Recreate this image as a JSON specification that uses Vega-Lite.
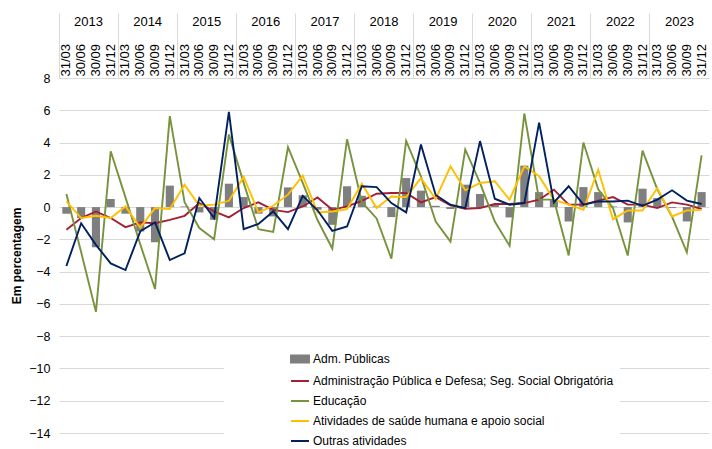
{
  "$schema": "https://vega.github.io/schema/vega-lite/v6.json",
  "width": 650,
  "height": 355,
  "autosize": {"type": "none"},
  "padding": {"left": 59, "top": 78, "right": 3, "bottom": 16},
  "background": "white",
  "config": {
    "view": {"stroke": null},
    "font": "Liberation Sans",
    "axis": {"labelFont": "Liberation Sans", "titleFont": "Liberation Sans", "labelColor": "#000000", "titleColor": "#000000"}
  },
  "layer": [
    {
      "data": {
        "values": [
          {"period": "31/03/2013", "A": -0.41, "B": -1.41, "C": 0.81, "D": 0.35, "E": -3.65},
          {"period": "30/06/2013", "A": -0.68, "B": -0.68, "C": -2.8, "D": -0.68, "E": -1.0},
          {"period": "30/09/2013", "A": -2.49, "B": -0.27, "C": -6.49, "D": -0.54, "E": -2.34},
          {"period": "31/12/2013", "A": 0.5, "B": -0.68, "C": 3.46, "D": -0.68, "E": -3.49},
          {"period": "31/03/2014", "A": -0.41, "B": -1.24, "C": 0.6, "D": 0.04, "E": -3.9},
          {"period": "30/06/2014", "A": -1.51, "B": -0.95, "C": -2.3, "D": -1.27, "E": -1.5},
          {"period": "30/09/2014", "A": -2.18, "B": -1.0, "C": -5.08, "D": -0.06, "E": -0.95},
          {"period": "31/12/2014", "A": 1.33, "B": -0.79, "C": 5.64, "D": -0.12, "E": -3.28},
          {"period": "31/03/2015", "A": 0.04, "B": -0.54, "C": 0.3, "D": 1.39, "E": -2.86},
          {"period": "30/06/2015", "A": -0.33, "B": 0.25, "C": -1.3, "D": 0.08, "E": 0.56},
          {"period": "30/09/2015", "A": -0.79, "B": -0.27, "C": -2.0, "D": 0.15, "E": -0.68},
          {"period": "31/12/2015", "A": 1.45, "B": -0.64, "C": 4.5, "D": 0.39, "E": 5.9},
          {"period": "31/03/2016", "A": 0.62, "B": -0.06, "C": 1.5, "D": 1.87, "E": -1.37},
          {"period": "30/06/2016", "A": -0.41, "B": 0.29, "C": -1.37, "D": -0.33, "E": -1.04},
          {"period": "30/09/2016", "A": -0.58, "B": -0.17, "C": -1.54, "D": 0.08, "E": -0.27},
          {"period": "31/12/2016", "A": 1.22, "B": -0.31, "C": 3.71, "D": 0.77, "E": -1.37},
          {"period": "31/03/2017", "A": 0.73, "B": 0.04, "C": 1.5, "D": 1.95, "E": 0.7},
          {"period": "30/06/2017", "A": -0.17, "B": 0.6, "C": -0.8, "D": -0.33, "E": -0.2},
          {"period": "30/09/2017", "A": -1.1, "B": -0.17, "C": -2.57, "D": -0.27, "E": -1.47},
          {"period": "31/12/2017", "A": 1.29, "B": 0.04, "C": 4.2, "D": -0.12, "E": -1.2},
          {"period": "31/03/2018", "A": 0.7, "B": 0.39, "C": 0.3, "D": 1.45, "E": 1.29},
          {"period": "30/06/2018", "A": 0.05, "B": 0.83, "C": -0.7, "D": -0.06, "E": 1.24},
          {"period": "30/09/2018", "A": -0.62, "B": 0.87, "C": -3.2, "D": 0.66, "E": 0.25},
          {"period": "31/12/2018", "A": 1.8, "B": 0.87, "C": 4.1, "D": 0.62, "E": -0.33},
          {"period": "31/03/2019", "A": 1.02, "B": 0.29, "C": 1.9, "D": 1.8, "E": 3.88},
          {"period": "30/06/2019", "A": 0.08, "B": 0.62, "C": -0.9, "D": 0.5, "E": 0.75},
          {"period": "30/09/2019", "A": -0.12, "B": 0.1, "C": -2.14, "D": 2.53, "E": 0.15},
          {"period": "31/12/2019", "A": 1.39, "B": -0.1, "C": 3.57, "D": 1.04, "E": -0.06},
          {"period": "31/03/2020", "A": 0.81, "B": -0.06, "C": 1.5, "D": 1.49, "E": 4.09},
          {"period": "30/06/2020", "A": 0.15, "B": 0.19, "C": -0.9, "D": 1.6, "E": 0.52},
          {"period": "30/09/2020", "A": -0.64, "B": 0.19, "C": -2.4, "D": 0.46, "E": 0.15},
          {"period": "31/12/2020", "A": 2.57, "B": 0.25, "C": 5.8, "D": 2.53, "E": 0.25},
          {"period": "31/03/2021", "A": 0.93, "B": 0.46, "C": 0.46, "D": 1.91, "E": 5.23},
          {"period": "30/06/2021", "A": 0.46, "B": 1.08, "C": 0.46, "D": 0.46, "E": 0.29},
          {"period": "30/09/2021", "A": -0.89, "B": 0.15, "C": -3.0, "D": 0.15, "E": 1.29},
          {"period": "31/12/2021", "A": 1.24, "B": 0.15, "C": 4.0, "D": -0.17, "E": 0.15},
          {"period": "31/03/2022", "A": 0.93, "B": 0.4, "C": 1.1, "D": 2.32, "E": 0.35},
          {"period": "30/06/2022", "A": 0.04, "B": 0.62, "C": -0.06, "D": -0.75, "E": 0.35},
          {"period": "30/09/2022", "A": -0.95, "B": 0.15, "C": -3.0, "D": -0.21, "E": 0.4},
          {"period": "31/12/2022", "A": 1.14, "B": 0.15, "C": 3.5, "D": -0.21, "E": 0.08},
          {"period": "31/03/2023", "A": 0.56, "B": -0.06, "C": 1.1, "D": 1.18, "E": 0.46},
          {"period": "30/06/2023", "A": -0.06, "B": 0.29, "C": -0.6, "D": -0.58, "E": 1.04},
          {"period": "30/09/2023", "A": -0.89, "B": 0.15, "C": -2.8, "D": -0.21, "E": 0.4},
          {"period": "31/12/2023", "A": 0.93, "B": -0.12, "C": 3.2, "D": -0.17, "E": 0.19}
        ]
      },
      "transform": [{"fold": ["A", "B", "C", "D", "E"], "as": ["series", "value"]}],
      "encoding": {
        "x": {
          "field": "period", "type": "ordinal", "sort": null,
          "scale": {"paddingInner": 0, "paddingOuter": 0},
          "axis": {
            "orient": "top", "title": null, "labelAngle": -90, "labelAlign": "left", "labelBaseline": "middle",
            "ticks": false, "domain": false, "grid": false, "labelPadding": 2, "labelFontSize": 13,
            "labelOverlap": false, "labelExpr": "slice(datum.value, 0, 5)"
          }
        },
        "y": {
          "field": "value", "type": "quantitative",
          "scale": {"domain": [-14, 8], "nice": false, "zero": false},
          "axis": {
            "values": [-14, -12, -10, -8, -6, -4, -2, 0, 2, 4, 6, 8],
            "title": "Em percentagem", "titleFontSize": 12, "titleFontWeight": "bold", "titlePadding": 5,
            "labelFontSize": 12.5, "labelPadding": 9, "domain": false, "ticks": false,
            "gridColor": "#d9d9d9", "gridWidth": 1
          }
        },
        "color": {
          "field": "series", "type": "nominal",
          "scale": {"domain": ["A", "B", "C", "D", "E"], "range": ["#7f7f7f", "#a31f34", "#77933c", "#ffc000", "#002060"]},
          "legend": {
            "orient": "none", "legendX": 165, "legendY": 265, "title": " ", "titleOrient": "left", "titlePadding": 60,
            "padding": 6, "fillColor": "white", "strokeColor": null,
            "symbolSize": 324, "rowPadding": 4, "labelOffset": 3,
            "labelFontSize": 12, "labelFont": "Liberation Sans", "labelColor": "#000000", "labelLimit": 500,
            "labelExpr": "{'A': 'Adm. Públicas', 'B': 'Administração Pública e Defesa; Seg. Social Obrigatória', 'C': 'Educação', 'D': 'Atividades de saúde humana e apoio social', 'E': 'Outras atividades'}[datum.label]",
            "encode": {
              "symbols": {
                "update": {
                  "shape": {"signal": "datum.value === 'A' ? 'M-1,-0.38H1V0.38H-1Z' : 'stroke'"},
                  "fill": {"signal": "datum.value === 'A' ? '#7f7f7f' : 'transparent'"},
                  "stroke": {"signal": "datum.value === 'A' ? 'transparent' : scale('color', datum.value)"},
                  "strokeWidth": {"value": 2},
                  "opacity": {"value": 1}
                }
              }
            }
          }
        }
      },
      "layer": [
        {
          "transform": [{"filter": "datum.series === 'A'"}],
          "mark": {"type": "bar", "width": {"band": 0.55}}
        },
        {
          "transform": [{"filter": "datum.series !== 'A'"}],
          "mark": {"type": "line", "strokeWidth": 1.9}
        }
      ]
    },
    {
      "data": {"values": [{"year": "2013"}, {"year": "2014"}, {"year": "2015"}, {"year": "2016"}, {"year": "2017"}, {"year": "2018"}, {"year": "2019"}, {"year": "2020"}, {"year": "2021"}, {"year": "2022"}, {"year": "2023"}]},
      "mark": {"type": "rule", "opacity": 0},
      "encoding": {
        "x": {
          "field": "year", "type": "ordinal",
          "scale": {"paddingInner": 0, "paddingOuter": 0},
          "axis": {
            "orient": "top", "title": null, "bandPosition": 0, "ticks": true, "tickSize": 65,
            "tickColor": "#d9d9d9", "tickWidth": 1, "domain": true, "domainColor": "#d9d9d9", "grid": false,
            "labelPadding": -8, "labelAlign": "center", "labelBaseline": "middle",
            "labelAngle": 0, "labelFontSize": 13
          }
        }
      }
    }
  ],
  "resolve": {"scale": {"x": "independent"}, "axis": {"x": "independent"}}
}
